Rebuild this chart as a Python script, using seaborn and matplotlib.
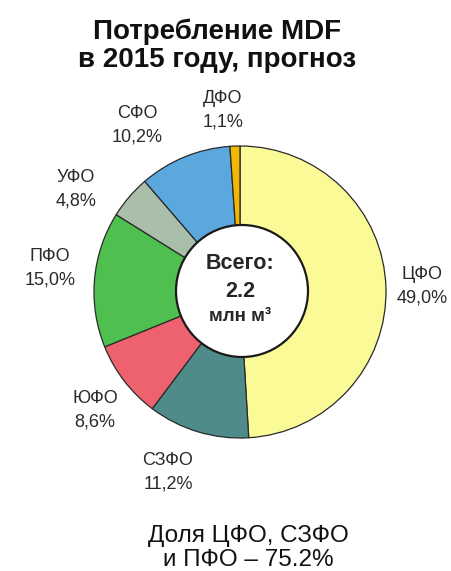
import numpy as np
import matplotlib
matplotlib.use("Agg")
import matplotlib.pyplot as plt
import seaborn as sns

sns.set_theme(style="white")
plt.rcParams["font.family"] = ["Liberation Sans", "DejaVu Sans"]

# Regional shares of MDF consumption, clockwise from 12 o'clock
regions = ["ЦФО", "СЗФО", "ЮФО", "ПФО", "УФО", "СФО", "ДФО"]
shares = [49.0, 11.2, 8.6, 15.0, 4.8, 10.2, 1.1]
share_labels = ["49,0%", "11,2%", "8,6%", "15,0%", "4,8%", "10,2%", "1,1%"]
colors = ["#FAFA96", "#4F8B88", "#EE6270", "#4FC04F", "#A9BFAA", "#5AA8DE", "#F2B705"]

title = "Потребление MDF\nв 2015 году, прогноз"
centre_lines = ["Всего:", "2.2", "млн м³"]
footer = "Доля ЦФО, СЗФО\nи ПФО – 75.2%"

W, H = 452, 571
fig = plt.figure(figsize=(W / 100, H / 100), dpi=100)
ax = fig.add_axes([0, 0, 1, 1])

cx, cy, R = 240, H - 292, 146
wedges, _ = ax.pie(
    shares,
    colors=colors,
    startangle=90,
    counterclock=False,
    center=(cx, cy),
    radius=R,
    wedgeprops=dict(edgecolor="#2a2a2a", linewidth=0.9),
)

# white hub in the middle
hub = plt.Circle((cx + 2, cy + 1), 66, facecolor="white", edgecolor="#1a1a1a", linewidth=1.6, zorder=5)
ax.add_patch(hub)

ax.text(cx, cy + 29, centre_lines[0], ha="center", va="center", fontsize=15.5, fontweight="bold", zorder=6)
ax.text(cx, cy + 1, centre_lines[1], ha="center", va="center", fontsize=15.5, fontweight="bold", zorder=6)
ax.text(cx, cy - 24, centre_lines[2], ha="center", va="center", fontsize=13.5, fontweight="bold", zorder=6)

# outer labels: anchor points around the ring (pixel layout, top-down y)
label_pos = [(422, 286), (168, 472), (95, 410), (50, 268), (76, 189), (137, 125), (223, 110)]
for name, pct, (lx, ly) in zip(regions, share_labels, label_pos):
    ax.text(lx, H - ly, f"{name}\n{pct}", ha="center", va="center", fontsize=13,
            color="#2a2a2a", linespacing=1.5)

ax.text(217, H - 46, title, ha="center", va="center", fontsize=20,
        fontweight="bold", color="#111111", linespacing=1.1)
ax.text(248, H - 548, footer, ha="center", va="center", fontsize=17.5,
        color="#111111", linespacing=1.1)

ax.set_xlim(0, W)
ax.set_ylim(0, H)
ax.set_aspect("equal")
ax.axis("off")
fig.savefig("out.png", dpi=100)
